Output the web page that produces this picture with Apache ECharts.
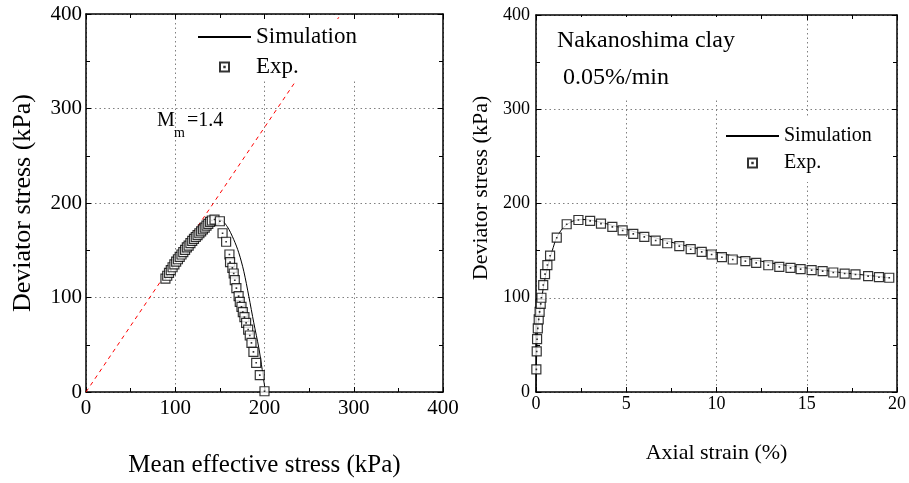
<!DOCTYPE html>
<html>
<head>
<meta charset="utf-8">
<script src="https://cdn.jsdelivr.net/npm/echarts@6/dist/echarts.min.js"></script>
<style>html,body{margin:0;padding:0;background:#fff}#c{width:909px;height:483px}</style>
</head>
<body>
<div id="c"></div>
<script>
// ---- Left panel: stress path (p' vs q) ----
const leftExpP = [89, 91, 93, 95, 97, 99, 101, 103, 105, 107, 109, 111, 113, 115, 117, 119, 121, 123, 125, 127, 129, 131, 133, 135, 137, 139, 141, 144, 150, 153, 157, 160.7, 161.4, 164, 165.5, 166.7, 168.5, 171, 172.3, 174.2, 175.7, 177.5, 179.4, 181.7, 183.5, 185.4, 187.6, 190.7, 194.7, 200];
const leftExpQ = [120, 123, 126, 129, 132, 135, 138, 140.5, 143, 145.5, 148, 150.5, 153, 155, 157.5, 160, 162, 164, 166, 168, 170, 172, 174, 176, 178, 180, 181.5, 182.5, 180.7, 168, 159, 145.5, 137.4, 131.4, 125.4, 118.3, 109.9, 101.4, 95.4, 90.1, 84.5, 79.2, 73.2, 66.1, 59.8, 52, 42.5, 30.9, 17.8, 0.8];
const leftSimP = [89, 100, 110, 120, 130, 140, 146, 150.5, 158, 165.5, 171.2, 176.8, 182.4, 188, 193.6, 197.4, 201];
const leftSimQ = [122, 133.5, 144, 154.5, 165, 175, 180.5, 182, 175.4, 161.4, 147.3, 127.8, 101.4, 73.2, 46.8, 23.8, 0];
const mLineP = [0, 285.7];
const mLineQ = [0, 400];
const leftTicks = [0, 100, 200, 300, 400];

// ---- Right panel: axial strain vs q ----
const rightExpE = [0.02, 0.04, 0.06, 0.1, 0.15, 0.2, 0.26, 0.3, 0.4, 0.5, 0.63, 0.78, 1.15, 1.7, 2.35, 3.0, 3.6, 4.23, 4.8, 5.39, 6.0, 6.63, 7.27, 7.94, 8.57, 9.18, 9.73, 10.3, 10.9, 11.6, 12.2, 12.87, 13.48, 14.1, 14.66, 15.27, 15.88, 16.47, 17.1, 17.7, 18.4, 19.0, 19.57];
const rightExpQ = [24, 43, 56, 67.5, 77, 85, 93.5, 100, 113.5, 125, 134.7, 144.6, 163.7, 178, 182.5, 181.5, 178.7, 175.2, 171.4, 167.8, 164.6, 160.7, 157.8, 154.7, 151.5, 148.7, 145.9, 143, 140.6, 138.8, 137, 134.5, 132.8, 131.7, 130.3, 129.3, 128.2, 126.8, 125.7, 124.7, 122.9, 121.8, 121.2];
const rightSimE = [0, 0.02, 0.05, 0.1, 0.2, 0.3, 0.4, 0.55, 0.7, 0.9, 1.15, 1.5, 2.0, 2.5, 3.0, 4, 5, 6, 7, 8, 9, 10, 11, 12, 13, 14, 15, 16, 17, 18, 19, 19.6];
const rightSimQ = [0, 25, 50, 70, 85, 97, 110, 125, 137, 150, 164, 174, 181, 183, 182.5, 178, 172.5, 167, 161.5, 156.5, 152, 148, 144, 140.5, 137, 134, 131.5, 129, 126.5, 124.5, 122.5, 121];
const rightXTicks = [0, 5, 10, 15, 20];
const rightYTicks = [0, 100, 200, 300, 400];

const seriesNames = ['Simulation', 'Exp.'];
const texts = {
  leftX: 'Mean effective stress (kPa)',
  leftY: 'Deviator stress (kPa)',
  rightX: 'Axial strain (%)',
  rightY: 'Deviator stress (kPa)',
  material: 'Nakanoshima clay',
  rate: '0.05%/min'
};

const zip = (a, b) => a.map((v, i) => [v, b[i]]);
const FONT = '"Liberation Serif", "Times New Roman", serif';
const SYM = 'path://M0,0H20V20H0ZM9.5,9.5H10.5V10.5H9.5Z';

function mainAxis(gridIndex, pos, ticks, fs, margin, extra) {
  return Object.assign({
    type: 'value', gridIndex: gridIndex, position: pos,
    min: ticks[0], max: ticks[ticks.length - 1], interval: ticks[1] - ticks[0],
    axisLine: { show: true, onZero: false, lineStyle: { color: '#000', width: 1.5 } },
    axisTick: { show: true, inside: true, length: 5, lineStyle: { color: '#000', width: 1 } },
    minorTick: { show: true, splitNumber: 2, length: 4, lineStyle: { color: '#000', width: 1 } },
    axisLabel: { show: true, color: '#000', fontFamily: FONT, fontSize: fs, margin: margin },
    splitLine: { show: true, lineStyle: { color: '#808080', width: 1, type: [1.5, 3] } }
  }, extra || {});
}
function mirrorAxis(gridIndex, pos, ticks) {
  return {
    type: 'value', gridIndex: gridIndex, position: pos,
    min: ticks[0], max: ticks[ticks.length - 1], interval: ticks[1] - ticks[0],
    axisLine: { show: true, onZero: false, lineStyle: { color: '#000', width: 1.5 } },
    axisTick: { show: true, inside: true, length: 5, lineStyle: { color: '#000', width: 1 } },
    minorTick: { show: true, splitNumber: 2, length: 4, lineStyle: { color: '#000', width: 1 } },
    axisLabel: { show: false },
    splitLine: { show: false }
  };
}
const legendData = [
  { name: seriesNames[0], itemStyle: { opacity: 0 } },
  { name: seriesNames[1] }
];

const chart = echarts.init(document.getElementById('c'), null, { renderer: 'canvas' });
const option = {
  animation: false,
  backgroundColor: '#fff',
  textStyle: { fontFamily: FONT },
  grid: [
    { left: 86, right: 466, top: 14, bottom: 91 },
    { left: 536, right: 12, top: 15, bottom: 91 }
  ],
  xAxis: [
    mainAxis(0, 'bottom', leftTicks, 21, 6, { name: texts.leftX, nameLocation: 'middle', nameGap: 61, nameTextStyle: { fontFamily: FONT, fontSize: 25, color: '#000' } }),
    mirrorAxis(0, 'top', leftTicks),
    mainAxis(1, 'bottom', rightXTicks, 18, 3, { name: texts.rightX, nameLocation: 'middle', nameGap: 50, nameTextStyle: { fontFamily: FONT, fontSize: 22, color: '#000' } }),
    mirrorAxis(1, 'top', rightXTicks)
  ],
  yAxis: [
    mainAxis(0, 'left', leftTicks, 21, 4, { name: texts.leftY, nameLocation: 'middle', nameGap: 50, nameTextStyle: { fontFamily: FONT, fontSize: 26, color: '#000' } }),
    mirrorAxis(0, 'right', leftTicks),
    mainAxis(1, 'left', rightYTicks, 18, 6),
    mirrorAxis(1, 'right', rightYTicks)
  ],
  legend: [
    {
      orient: 'vertical', left: 180, top: 19, padding: [6, 8, 2, 17], itemGap: 6,
      itemWidth: 53, itemHeight: 9, backgroundColor: '#fff', selectedMode: false,
      data: legendData,
      textStyle: { fontFamily: FONT, fontSize: 23, lineHeight: 24, color: '#000' }
    },
    {
      orient: 'vertical', left: 720, top: 117, padding: [8, 10, 8, 5], itemGap: 5,
      itemWidth: 53, itemHeight: 9, backgroundColor: '#fff', selectedMode: false,
      data: legendData,
      textStyle: { fontFamily: FONT, fontSize: 20, lineHeight: 22, color: '#000' }
    }
  ],
  graphic: [
    { type: 'text', z: 20, left: 157, top: 111, style: { text: 'M', font: '20px ' + FONT, fill: '#000' } },
    { type: 'text', z: 20, left: 174, top: 126, style: { text: 'm', font: '14px ' + FONT, fill: '#000' } },
    { type: 'text', z: 20, left: 187, top: 111, style: { text: '=1.4', font: '20px ' + FONT, fill: '#000' } },
    { type: 'rect', z: 19, shape: { x: 548, y: 17, width: 210, height: 83 }, style: { fill: '#fff' } },
    { type: 'text', z: 20, left: 557, top: 29, style: { text: texts.material, font: '24px ' + FONT, fill: '#000' } },
    { type: 'text', z: 20, left: 563, top: 66, style: { text: texts.rate, font: '24px ' + FONT, fill: '#000' } },
    { type: 'text', z: 20, x: 481, y: 188, rotation: Math.PI / 2, style: { text: texts.rightY, font: '22px ' + FONT, fill: '#000', align: 'center', verticalAlign: 'middle' } }
  ],
  series: [
    {
      name: 'M line', type: 'line', xAxisIndex: 0, yAxisIndex: 0, data: zip(mLineP, mLineQ),
      symbol: 'none', lineStyle: { color: '#ff0000', width: 1, type: [4, 4] }, z: 1, silent: true
    },
    {
      name: seriesNames[0], type: 'line', xAxisIndex: 0, yAxisIndex: 0, data: zip(leftSimP, leftSimQ),
      symbol: 'none', smooth: 0.3, lineStyle: { color: '#000', width: 1 }, itemStyle: { color: '#000' }, z: 3
    },
    {
      name: seriesNames[1], type: 'scatter', xAxisIndex: 0, yAxisIndex: 0, data: zip(leftExpP, leftExpQ),
      symbol: SYM, symbolSize: 9, itemStyle: { color: '#fff', borderColor: '#000', borderWidth: 1.2 }, z: 4
    },
    {
      name: seriesNames[0], type: 'line', xAxisIndex: 2, yAxisIndex: 2, data: zip(rightSimE, rightSimQ),
      symbol: 'none', smooth: 0.3, lineStyle: { color: '#000', width: 1 }, itemStyle: { color: '#000' }, z: 3
    },
    {
      name: seriesNames[1], type: 'scatter', xAxisIndex: 2, yAxisIndex: 2, data: zip(rightExpE, rightExpQ),
      symbol: SYM, symbolSize: 9, itemStyle: { color: '#fff', borderColor: '#000', borderWidth: 1.2 }, z: 4
    }
  ]
};
chart.setOption(option);
</script>
</body>
</html>
